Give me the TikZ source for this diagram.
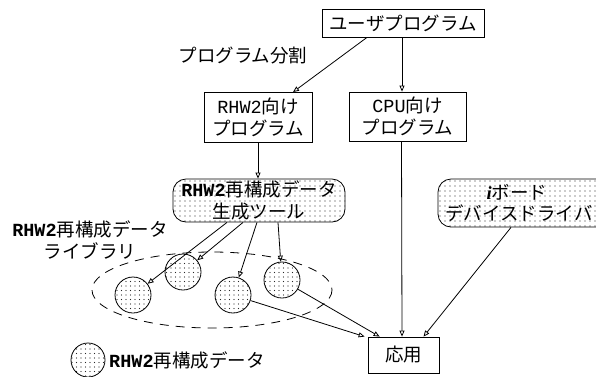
\documentclass[tikz,border=0pt]{standalone}
\usepackage{fontspec}
\setmainfont{Noto Sans CJK JP}
\setmonofont{Liberation Mono}
\newfontfamily\itfont{Liberation Serif}
\usetikzlibrary{patterns.meta,arrows.meta}
\tikzset{
  every node/.style={font=\fontsize{18.5}{21.5}\selectfont},
  box/.style={draw, line width=0.8pt, align=center, inner sep=0pt},
  dotbox/.style={draw, line width=0.8pt, align=center, inner sep=0pt, rounded corners=13pt,
     pattern={Dots[distance=5pt,radius=0.6pt]}, pattern color=black!85},
  datac/.style={circle, draw, line width=0.8pt, minimum size=36pt, inner sep=0pt,
     pattern={Dots[distance=4.5pt,radius=0.6pt]}, pattern color=black!85},
  arr/.style={line width=0.8pt, -{Triangle[open,length=6pt,width=5pt]}},
  lbl/.style={align=center, inner sep=0pt}
}
\begin{document}
\begin{tikzpicture}[x=1pt,y=-1pt]
\useasboundingbox (0,0) rectangle (596,376);
\clip (0,0) rectangle (596,376);
% boxes
\node[box, minimum width=162pt, minimum height=28pt] (user) at (403,23) {ユーザプログラム};
\node[box, minimum width=108pt, minimum height=50pt] (rhw) at (258,117.5) {\texttt{RHW2}向け\\プログラム};
\node[box, minimum width=117pt, minimum height=49pt] (cpu) at (407.5,116.5) {\texttt{CPU}向け\\プログラム};
\node[dotbox, minimum width=172pt, minimum height=43pt] (tool) at (259,200.5) {\texttt{\bfseries RHW2}再構成データ\\生成ツール};
\node[dotbox, minimum width=172pt, minimum height=48pt] (ib) at (524,203) {\hspace*{-14pt}{\itfont\bfseries\itshape i}ボード\\\hspace*{-10pt}デバイスドライバ};
\node[box, minimum width=71pt, minimum height=36pt] (app) at (403.5,355) {応用};
% labels
\node[lbl] (split) at (243,56) {プログラム分割};
\node[lbl] (lib) at (90,240) {\texttt{\bfseries RHW2}再構成データ\\ライブラリ};
% library
\draw[dashed, dash pattern=on 9pt off 7pt, line width=0.8pt] (212,290) ellipse [x radius=120, y radius=38];
\node[datac] (c1) at (133,295) {};
\node[datac] (c2) at (183,272) {};
\node[datac] (c3) at (233,295) {};
\node[datac] (c4) at (282,280) {};
% legend
\node[datac, minimum size=34pt] (leg) at (88,360) {};
\node[lbl, anchor=west] (legt) at (109,360) {\texttt{\bfseries RHW2}再構成データ};
% connectors
\draw[arr] ([xshift=-36pt]user.south) -- ([xshift=35pt]rhw.north);
\draw[arr] ([xshift=-1pt]user.south) -- ([xshift=-1pt]user.south |- cpu.north);
\draw[arr] (rhw.south) -- (rhw.south |- tool.north);
\draw[arr] ([xshift=-32pt]tool.south) -- (c1);
\draw[arr] ([xshift=-16pt]tool.south) -- (c2);
\draw[arr] ([xshift=-2pt]tool.south) -- (c3);
\draw[arr] ([xshift=19pt]tool.south) -- (c4);
\draw[arr] (c3) -- ([xshift=-3pt]app.north west);
\draw[arr] (c4) -- ([xshift=12pt]app.north west);
\draw[arr] ([xshift=-1.5pt]cpu.south -| user.south) -- ([xshift=-1pt]app.north -| user.south);
\draw[arr] ([xshift=-13pt]ib.south) -- ([xshift=20pt]app.north);
\end{tikzpicture}
\end{document}
